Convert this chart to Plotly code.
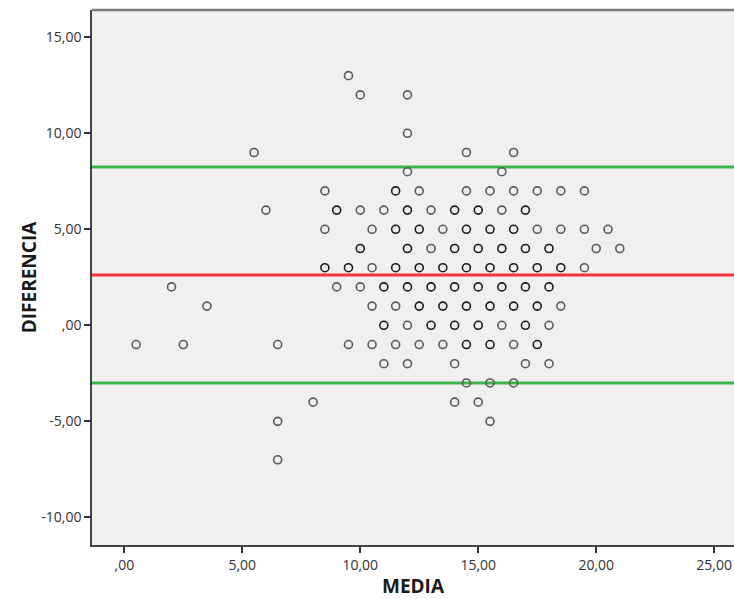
import plotly.graph_objects as go

# ---- data ----
# MEDIA (x) and DIFERENCIA (y) of each visible circle; "repeticiones" marks
# circles that look darker because several cases overlap there.
media = [
    9.5,                                                     # y = 13
    10, 12,                                                  # y = 12
    12,                                                      # y = 10
    5.5, 14.5, 16.5,                                         # y = 9
    12, 16,                                                  # y = 8
    8.5, 11.5, 12.5, 14.5, 15.5, 16.5, 17.5, 18.5, 19.5,     # y = 7
    6, 9, 10, 11, 12, 13, 14, 15, 16, 17,                    # y = 6
    8.5, 10.5, 11.5, 12.5, 13.5, 14.5, 15.5, 16.5, 17.5, 18.5, 19.5, 20.5,  # y = 5
    10, 12, 13, 14, 15, 16, 17, 18, 20, 21,                  # y = 4
    8.5, 9.5, 10.5, 11.5, 12.5, 13.5, 14.5, 15.5, 16.5, 17.5, 18.5, 19.5,   # y = 3
    2, 9, 10, 11, 12, 13, 14, 15, 16, 17, 18,                # y = 2
    3.5, 10.5, 11.5, 12.5, 13.5, 14.5, 15.5, 16.5, 17.5, 18.5,  # y = 1
    11, 12, 13, 14, 15, 16, 17, 18,                          # y = 0
    0.5, 2.5, 6.5, 9.5, 10.5, 11.5, 12.5, 13.5, 14.5, 15.5, 16.5, 17.5,     # y = -1
    11, 12, 14, 17, 18,                                      # y = -2
    14.5, 15.5, 16.5,                                        # y = -3
    8, 14, 15,                                               # y = -4
    6.5, 15.5,                                               # y = -5
    6.5,                                                     # y = -7
]
diferencia = (
    [13] * 1 + [12] * 2 + [10] * 1 + [9] * 3 + [8] * 2 + [7] * 9 + [6] * 10
    + [5] * 12 + [4] * 10 + [3] * 12 + [2] * 11 + [1] * 10 + [0] * 8
    + [-1] * 12 + [-2] * 5 + [-3] * 3 + [-4] * 3 + [-5] * 2 + [-7] * 1
)
repeticiones = [
    1,
    1, 1,
    1,
    1, 1, 1,
    1, 1,
    1, 2, 1, 1, 1, 1, 1, 1, 1,
    1, 2, 1, 1, 2, 1, 2, 2, 1, 2,
    1, 1, 2, 2, 1, 2, 2, 2, 1, 1, 1, 1,
    2, 2, 1, 2, 2, 2, 2, 2, 1, 1,
    2, 2, 1, 2, 2, 2, 2, 2, 2, 2, 2, 1,
    1, 1, 1, 2, 2, 2, 2, 2, 2, 2, 2,
    1, 1, 1, 2, 2, 2, 2, 2, 2, 1,
    2, 1, 2, 2, 2, 1, 2, 1,
    1, 1, 1, 1, 1, 1, 1, 1, 2, 2, 1, 2,
    1, 1, 1, 1, 1,
    1, 1, 1,
    1, 1, 1,
    1, 1,
    1,
]

media_diferencias = 2.62
limite_superior = 8.24
limite_inferior = -3.00

x_ticks = [0, 5, 10, 15, 20, 25]
x_ticktext = [",00", "5,00", "10,00", "15,00", "20,00", "25,00"]
y_ticks = [-10, -5, 0, 5, 10, 15]
y_ticktext = ["-10,00", "-5,00", ",00", "5,00", "10,00", "15,00"]

# ---- figure ----
colores = ["#1a1a1a" if r > 1 else "#5a5a5a" for r in repeticiones]

fig = go.Figure()
fig.add_trace(go.Scatter(
    x=media, y=diferencia, mode="markers",
    marker=dict(symbol="circle-open", size=8, color=colores,
                line=dict(width=1.6)),
    showlegend=False, hoverinfo="skip",
))

fig.add_hline(y=limite_superior, line=dict(color="#3db54a", width=3), layer="below")
fig.add_hline(y=media_diferencias, line=dict(color="#f2333b", width=3), layer="below")
fig.add_hline(y=limite_inferior, line=dict(color="#3db54a", width=3), layer="below")

# top frame line (lighter grey in the reference)
fig.add_shape(type="line", xref="paper", yref="paper", x0=0, x1=1, y0=1, y1=1,
              line=dict(color="#7a7a7a", width=2.5))

tick_font = dict(family="Open Sans", size=14, color="#333333")
title_font = dict(family="Open Sans", size=19, color="#1a1a1a", weight=700)

fig.update_layout(
    width=734, height=599,
    margin=dict(l=92, r=0, t=10, b=54),
    paper_bgcolor="white", plot_bgcolor="#f0f0f0",
    xaxis=dict(
        range=[-1.37, 25.84], tickvals=x_ticks, ticktext=x_ticktext,
        ticks="outside", ticklen=6, tickwidth=1.5, tickcolor="#333333",
        showgrid=False, zeroline=False, showline=True, linecolor="#444444",
        linewidth=1.5, tickfont=tick_font,
        title=dict(text="MEDIA", font=title_font, standoff=16),
        automargin=False,
    ),
    yaxis=dict(
        range=[-11.44, 16.42], tickvals=y_ticks, ticktext=y_ticktext,
        ticks="outside", ticklen=6, tickwidth=1.5, tickcolor="#333333",
        showgrid=False, zeroline=False, showline=True, linecolor="#444444",
        linewidth=1.5, tickfont=tick_font,
        title=dict(text="DIFERENCIA", font=title_font, standoff=0),
        automargin=False,
    ),
)

# remove the default page margin so the figure fills the 734x599 window exactly
fig.write_html(
    "out.html",
    config={"displayModeBar": False},
    post_script="document.body.style.margin='0';document.body.style.overflow='hidden';",
)
